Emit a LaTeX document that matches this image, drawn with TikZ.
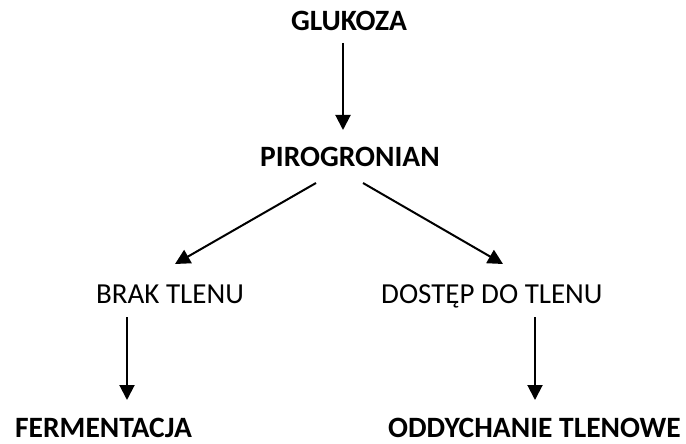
\documentclass[tikz,border=0pt]{standalone}
\usepackage{fontspec}
\setmainfont{Carlito}
\usetikzlibrary{arrows.meta}
\tikzset{
  lbl/.style={inner sep=0pt, anchor=base, font=\fontsize{29}{35}\selectfont},
  blbl/.style={lbl, font=\fontsize{29.5}{35}\selectfont\bfseries},
  arr/.style={line width=2pt, -{Triangle[length=15pt,width=15pt]}}
}
\begin{document}
\begin{tikzpicture}[x=1pt,y=-1pt]
\useasboundingbox (0,0) rectangle (686,444);
\node[blbl] (glu) at (349,31) {GLUKOZA};
\node[blbl] (pir) at (350,166) {PIROGRONIAN};
\node[lbl] (brak) at (170,303) {BRAK TLENU};
\node[lbl, anchor=base west] (dost) at (381,303) {DOSTĘP DO TLENU};
\node[blbl, anchor=base west] (ferm) at (15,437) {FERMENTACJA};
\node[blbl, anchor=base east] (odd) at (681,437) {ODDYCHANIE TLENOWE};
\coordinate (a1s) at (343,43);
\coordinate (a1e) at (343,130);
\coordinate (a2s) at (316,183);
\coordinate (a2e) at (175,264);
\coordinate (a3s) at (363,183);
\coordinate (a3e) at (503,264);
\coordinate (a4s) at (127,317);
\coordinate (a4e) at (127,400);
\coordinate (a5s) at (535,317);
\coordinate (a5e) at (535,400);
\draw[arr] (a1s) -- (a1e);
\draw[arr] (a2s) -- (a2e);
\draw[arr] (a3s) -- (a3e);
\draw[arr] (a4s) -- (a4e);
\draw[arr] (a5s) -- (a5e);
\end{tikzpicture}
\end{document}
